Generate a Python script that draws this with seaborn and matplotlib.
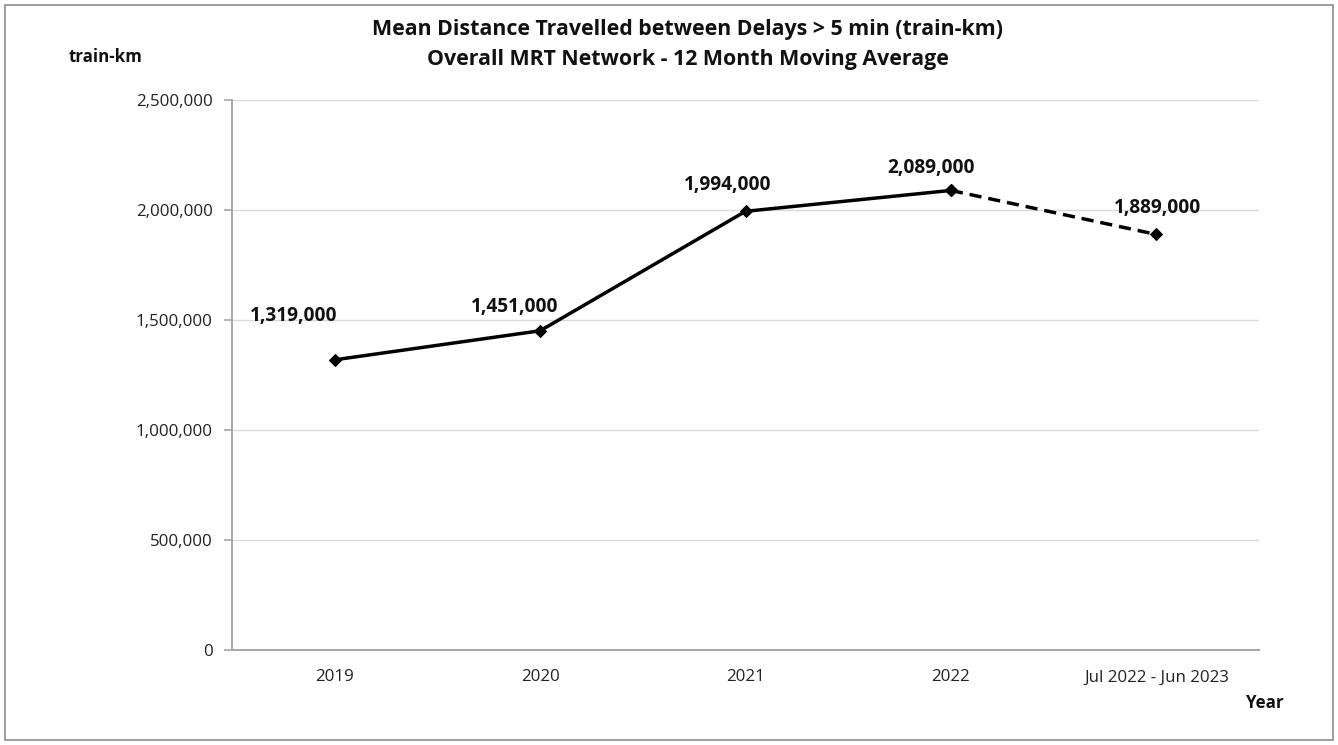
import numpy as np
import pandas as pd
import matplotlib
matplotlib.use("Agg")
import matplotlib.pyplot as plt
import seaborn as sns
from matplotlib.ticker import FuncFormatter, FixedLocator, NullFormatter
from matplotlib.patches import Rectangle

categories = ["2019", "2020", "2021", "2022", "Jul 2022 - Jun 2023"]
values = [1319000, 1451000, 1994000, 2089000, 1889000]
n_actual = 4  # first four are calendar years, last point is dashed

# label offsets in pixels (dx, dy) as placed in the original
label_offsets = [(-41, 44), (-25, 24), (-18, 26), (-20, 22), (1, 26)]

sns.set_theme(style="white")
plt.rcParams['font.family'] = ['Open Sans', 'DejaVu Sans']

df = pd.DataFrame({"pos": np.arange(len(categories)), "value": values})

fig = plt.figure(figsize=(13.38, 7.45), dpi=100)
ax = fig.add_axes([232 / 1338, 1 - 650 / 745, (1259 - 232) / 1338, 550 / 745])

sns.lineplot(data=df.iloc[:n_actual], x="pos", y="value", ax=ax, color="black",
             linewidth=2.5, marker="D", markersize=6.5, markeredgecolor="black")
sns.lineplot(data=df.iloc[n_actual - 1:], x="pos", y="value", ax=ax, color="black",
             linewidth=2.5, linestyle=(0, (3.5, 2)), marker="D", markersize=6.5,
             markeredgecolor="black")

for (x, y), (dx, dy) in zip(zip(df["pos"], df["value"]), label_offsets):
    ax.annotate(f"{y:,}", (x, y), xytext=(dx * 0.72, dy * 0.72), textcoords="offset points",
                ha="center", va="center", fontsize=13.8, fontweight="bold", color="#111111")

ax.set_xlim(-0.5, len(categories) - 0.5)
ax.set_ylim(0, 2500000)
ax.yaxis.set_major_locator(FixedLocator(np.arange(0, 2500001, 500000)))
ax.yaxis.set_major_formatter(FuncFormatter(lambda v, p: f"{int(v):,}"))
ax.set_xticks(range(len(categories)))
ax.set_xticklabels(categories)
ax.xaxis.set_minor_locator(FixedLocator(np.arange(-0.5, len(categories), 1.0)))
ax.xaxis.set_minor_formatter(NullFormatter())
ax.tick_params(axis="x", which="major", length=0, pad=14, labelsize=12.2, labelcolor="#222222")
ax.tick_params(axis="x", which="minor", length=6, width=1.2, color="#a6a6a6", direction="out")
ax.tick_params(axis="y", length=6, width=1.2, color="#a6a6a6", direction="out",
               labelsize=12.2, labelcolor="#222222", pad=8, left=True)
ax.grid(axis="y", color="#d9d9d9", linewidth=1.0)
ax.set_axisbelow(True)
ax.set_xlabel("")
ax.set_ylabel("")
for side in ["top", "right"]:
    ax.spines[side].set_visible(False)
for side in ["left", "bottom"]:
    ax.spines[side].set_color("#a6a6a6")
    ax.spines[side].set_linewidth(1.4)

fig.text(688 / 1338, 1 - 30 / 745, "Mean Distance Travelled between Delays > 5 min (train-km)",
         ha="center", va="center", fontsize=15.4, fontweight="bold", color="#111111")
fig.text(688 / 1338, 1 - 60 / 745, "Overall MRT Network - 12 Month Moving Average",
         ha="center", va="center", fontsize=15.4, fontweight="bold", color="#111111")
fig.text(106 / 1338, 1 - 57 / 745, "train-km", ha="center", va="center",
         fontsize=12.2, fontweight="bold", color="#111111")
fig.text(1265 / 1338, 1 - 703 / 745, "Year", ha="center", va="center",
         fontsize=12.2, fontweight="bold", color="#111111")

fig.patches.append(Rectangle((5 / 1338, 5 / 745), 1 - 10 / 1338, 1 - 10 / 745,
                             transform=fig.transFigure, fill=False,
                             edgecolor="#8c8c8c", linewidth=1.2))

fig.savefig("out.png", dpi=100)
